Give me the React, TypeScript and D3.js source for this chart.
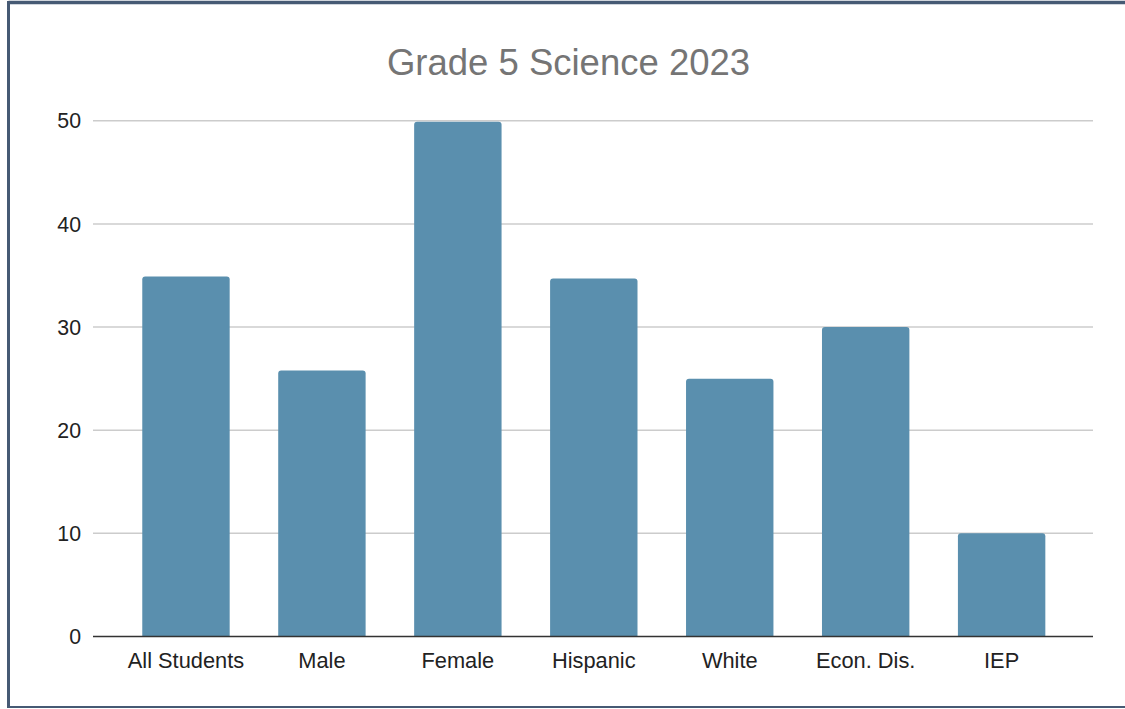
import React from "react";
import * as d3 from "d3";

const categories = ["All Students", "Male", "Female", "Hispanic", "White", "Econ. Dis.", "IEP"];
const values = [34.9, 25.8, 49.9, 34.7, 25, 30, 10];
const yTicks = [0, 10, 20, 30, 40, 50];
const title = "Grade 5 Science 2023";

const W = 1125;
const H = 709;
const FONT = "Arial, 'Liberation Sans', Helvetica, sans-serif";

export default function App() {
  const y = d3.scaleLinear().domain([0, 50]).range([636.5, 120.8]);
  const x = d3
    .scaleBand<string>()
    .domain(categories)
    .range([118, 1069.6])
    .paddingInner(0.357)
    .paddingOuter(0.1785);
  const gridX0 = 93;
  const gridX1 = 1093;
  const r = 3;

  const barPath = (cx: number, w: number, top: number, bottom: number) => {
    const p = d3.path();
    p.moveTo(cx, bottom);
    p.lineTo(cx, top + r);
    p.quadraticCurveTo(cx, top, cx + r, top);
    p.lineTo(cx + w - r, top);
    p.quadraticCurveTo(cx + w, top, cx + w, top + r);
    p.lineTo(cx + w, bottom);
    p.closePath();
    return p.toString();
  };

  return (
    <svg
      width={W}
      height={H}
      style={{ position: "fixed", left: 0, top: 0, background: "#ffffff" }}
    >
      <rect x={0} y={0} width={W} height={H} fill="#ffffff" />
      {/* frame */}
      <line x1={8.5} y1={2.5} x2={W} y2={2.5} stroke="#465a74" strokeWidth={3.5} />
      <line x1={8.5} y1={1} x2={8.5} y2={708} stroke="#465a74" strokeWidth={3} />
      <line x1={7} y1={707} x2={W} y2={707} stroke="#465a74" strokeWidth={2} />

      <text
        x={568.5}
        y={75}
        textAnchor="middle"
        fontFamily={FONT}
        fontSize={36.5}
        fill="#757575"
      >
        {title}
      </text>

      {yTicks.map((t) => (
        <g key={t}>
          {t !== 0 && (
            <line
              x1={gridX0}
              x2={gridX1}
              y1={y(t)}
              y2={y(t)}
              stroke="#cccccc"
              strokeWidth={1.5}
            />
          )}
          <text
            x={81}
            y={y(t)}
            dy="0.36em"
            textAnchor="end"
            fontFamily={FONT}
            fontSize={21.3}
            fill="#222222"
          >
            {t}
          </text>
        </g>
      ))}

      {categories.map((c, i) => {
        const bx = x(c) as number;
        const bw = x.bandwidth();
        return (
          <path
            key={c}
            d={barPath(bx, bw, y(values[i]), y(0))}
            fill="#5a8fae"
          />
        );
      })}

      <line
        x1={gridX0}
        x2={gridX1}
        y1={y(0)}
        y2={y(0)}
        stroke="#333333"
        strokeWidth={1.5}
      />

      {categories.map((c) => (
        <text
          key={c}
          x={(x(c) as number) + x.bandwidth() / 2}
          y={668}
          textAnchor="middle"
          fontFamily={FONT}
          fontSize={21.8}
          fill="#222222"
        >
          {c}
        </text>
      ))}
    </svg>
  );
}
